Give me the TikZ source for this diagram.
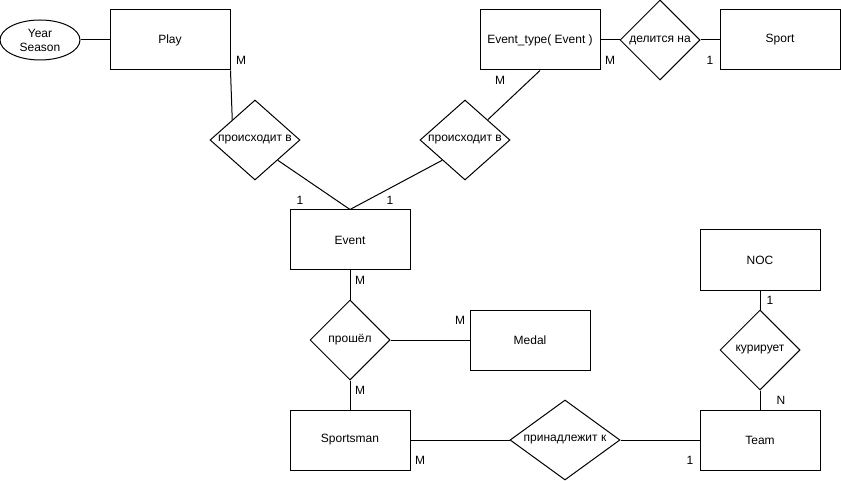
\documentclass[tikz,border=0pt]{standalone}
\usepackage{fontspec}
\setmainfont{Liberation Sans}
\usetikzlibrary{shapes.geometric}

\newcommand{\reltext}[1]{\makebox[0pt]{#1}}

\begin{document}
\begin{tikzpicture}[x=1pt, y=-1pt,
        font=\fontsize{12}{14}\selectfont,
        entity/.style={rectangle, draw, line width=1pt, minimum width=120pt, minimum height=60pt, inner sep=0pt},
        rel/.style={diamond, draw, line width=1pt, inner sep=0pt, aspect=1},
        attr/.style={ellipse, draw, line width=1pt, minimum width=80pt, minimum height=40pt, inner sep=0pt, align=center},
        card/.style={inner sep=0pt},
        link/.style={line width=1pt}]
        \useasboundingbox (0,0) rectangle (841,481);

        \node[entity] (Play) at (170,40) {Play};
        \node[attr] (YearSeason) at (40,40) {Year\\Season};
        \node[entity] (EventType) at (540,40) {Event\_type( Event )};
        \node[entity] (Sport) at (780,40) {Sport};
        \node[entity] (Event) at (350,240) {Event};
        \node[entity] (Medal) at (530,340) {Medal};
        \node[entity] (NOC) at (760,260) {NOC};
        \node[entity] (Sportsman) at (350,440) {Sportsman};
        \node[entity] (Team) at (760,440) {Team};

        \node[rel, minimum width=90pt, minimum height=80pt] (PlayIn) at (255,140) {\reltext{происходит в}};
        \node[rel, minimum width=90pt, minimum height=80pt] (TypeIn) at (465,140) {\reltext{происходит в}};
        \node[rel, minimum width=80pt, minimum height=80pt] (DividedInto) at (660,40) {\reltext{делится на}};
        \node[rel, minimum width=80pt, minimum height=80pt] (Passed) at (350,340) {\reltext{прошёл}};
        \node[rel, minimum width=80pt, minimum height=80pt] (Supervises) at (760,350) {\reltext{курирует}};
        \node[rel, minimum width=110pt, minimum height=80pt] (BelongsTo) at (565,440) {\reltext{принадлежит к}};

        \node[card] (cPlay) at (241,60) {M};
        \node[card] (cEventL) at (300,200) {1};
        \node[card] (cEventR) at (390,200) {1};
        \node[card] (cTypeB) at (500,80) {M};
        \node[card] (cTypeR) at (610,60) {M};
        \node[card] (cSport) at (710,60) {1};
        \node[card] (cEventB) at (360,280) {M};
        \node[card] (cSportsmanT) at (360,390) {M};
        \node[card] (cMedal) at (460,320) {M};
        \node[card] (cNOC) at (770,300) {1};
        \node[card] (cTeamT) at (781,400) {N};
        \node[card] (cSportsmanR) at (420,460) {M};
        \node[card] (cTeamL) at (690,460) {1};

        \draw[link] (YearSeason) -- (Play);
        \draw[link] (Play.south east) -- (PlayIn.north west);
        \draw[link] (PlayIn.south east) -- (Event.north);
        \draw[link] (TypeIn.south west) -- (Event.north);
        \draw[link] (EventType.south) -- (TypeIn.north east);
        \draw[link] (EventType) -- (DividedInto);
        \draw[link] (DividedInto) -- (Sport);
        \draw[link] (Event) -- (Passed);
        \draw[link] (Passed) -- (Sportsman);
        \draw[link] (Passed) -- (Medal);
        \draw[link] (Sportsman) -- (BelongsTo);
        \draw[link] (BelongsTo) -- (Team);
        \draw[link] (NOC) -- (Supervises);
        \draw[link] (Supervises) -- (Team);
    \end{tikzpicture}
\end{document}
